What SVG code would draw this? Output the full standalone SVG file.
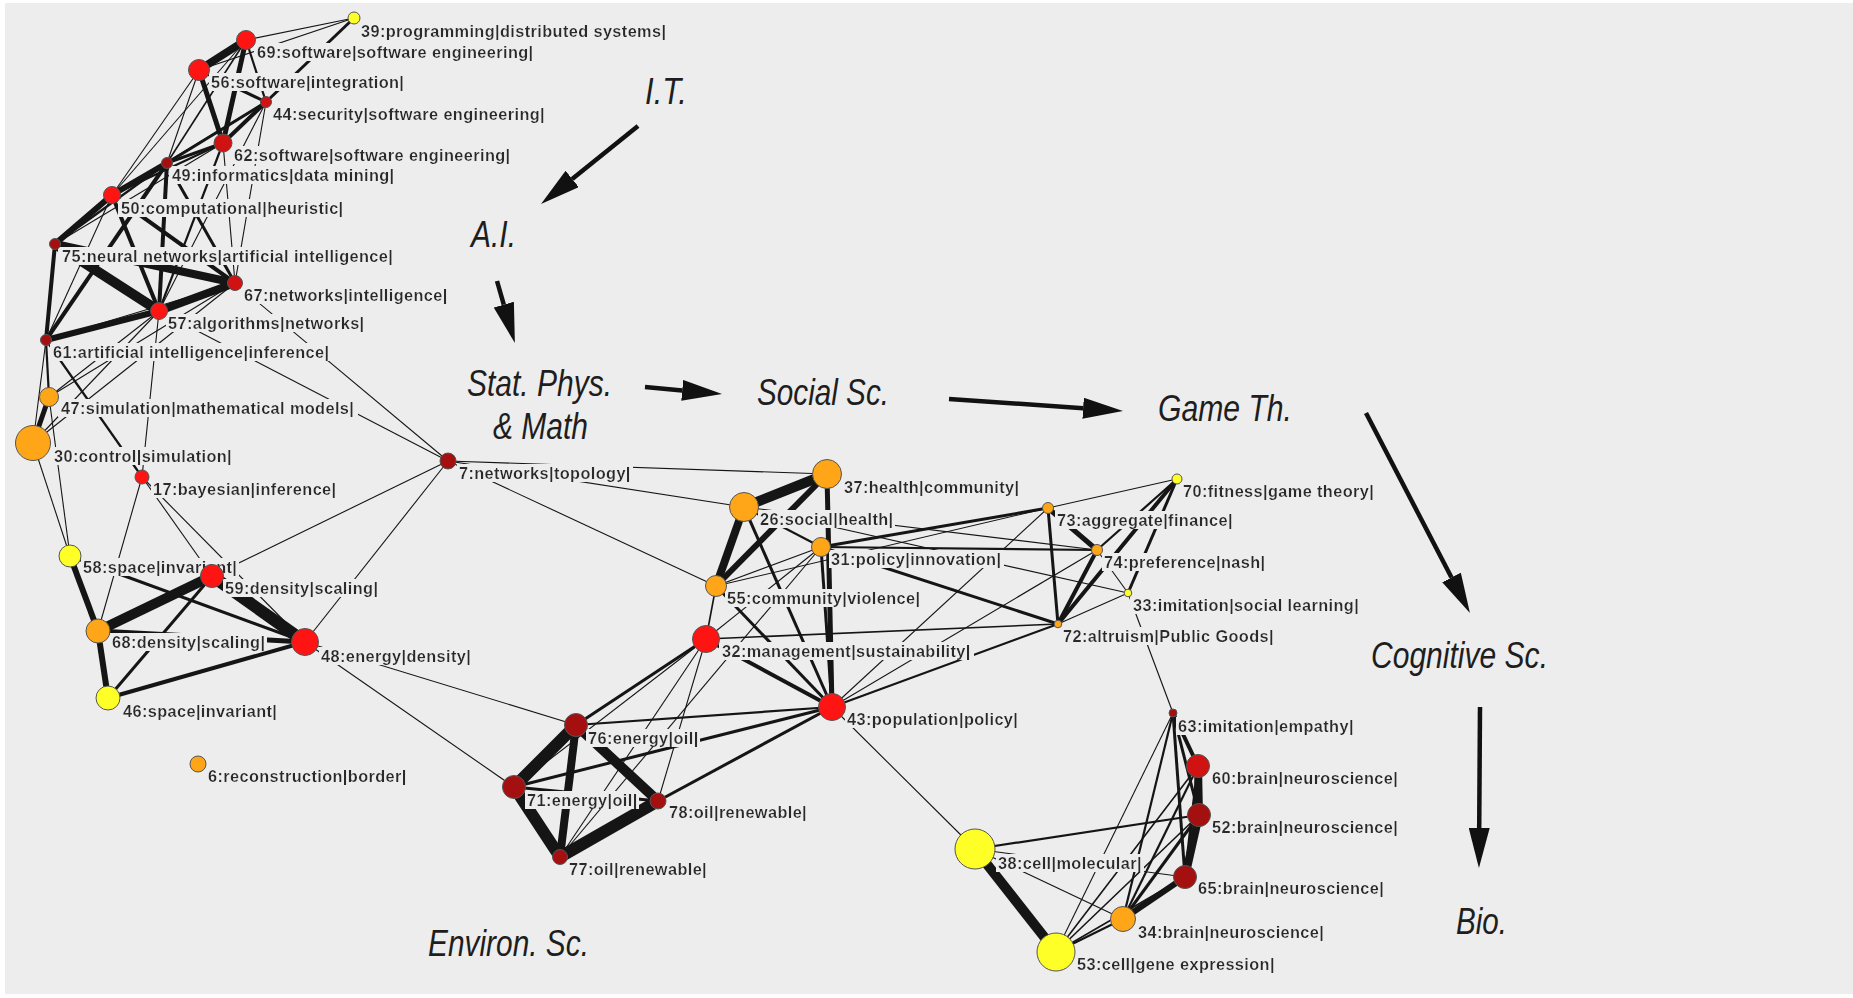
<svg xmlns="http://www.w3.org/2000/svg" width="1853" height="998" viewBox="0 0 1853 998">
<defs>
<style>
.canvas{fill:#ededed}
.n{stroke:#555;stroke-width:1}
.red{fill:#ff1414}
.mred{fill:#d01212}
.dred{fill:#a41010}
.org{fill:#ffa518}
.yel{fill:#ffff28}
.lbl{font-family:"Liberation Sans",Arial,Helvetica,sans-serif;font-size:16.3px;font-weight:bold;fill:#2a2a2a;letter-spacing:0.4px}
.cat{font-family:"Liberation Sans",Arial,Helvetica,sans-serif;font-size:37px;font-style:italic;fill:#1e1e1e}
#edges line{stroke:#151515;stroke-linecap:butt}
.w1{stroke-width:1.1}
.w15{stroke-width:1.6}
.w2{stroke-width:2.2}
.w3{stroke-width:3}
.w4{stroke-width:4}
.w5{stroke-width:5}
.w6{stroke-width:6}
.w8{stroke-width:8}
.w10{stroke-width:10}
.w12{stroke-width:12}
.flow line{stroke:#111;stroke-width:4.5;marker-end:url(#head)}
</style>
<marker id="head" markerUnits="userSpaceOnUse" viewBox="0 0 40 21" markerWidth="40" markerHeight="21" refX="0" refY="10.5" orient="auto">
<path d="M0,0 L40,10.5 L0,21 z" fill="#111"/>
</marker>
<filter id="cut" x="-0.01" y="0" width="1.02" height="1">
<feFlood flood-color="#ededed"/>
<feComposite in="SourceGraphic"/>
</filter>
</defs>

<rect width="1853" height="998" fill="#fff"/>
<rect class="canvas" x="5" y="3" width="1848" height="991"/>

<!-- weighted links between topic clusters -->
<g id="edges">
<!-- thin -->
<line class="w1" x1="354" y1="18" x2="246" y2="40"/>
<line class="w1" x1="354" y1="18" x2="199" y2="70"/>
<line class="w1" x1="246" y1="40" x2="112" y2="195"/>
<line class="w1" x1="199" y1="70" x2="167" y2="163"/>
<line class="w1" x1="199" y1="70" x2="112" y2="195"/>
<line class="w1" x1="266" y1="102" x2="112" y2="195"/>
<line class="w1" x1="266" y1="102" x2="235" y2="283"/>
<line class="w1" x1="266" y1="102" x2="159" y2="311"/>
<line class="w1" x1="223" y1="143" x2="235" y2="283"/>
<line class="w1" x1="223" y1="143" x2="55" y2="244"/>
<line class="w1" x1="112" y1="195" x2="46" y2="340"/>
<line class="w1" x1="46" y1="340" x2="235" y2="283"/>
<line class="w1" x1="49" y1="397" x2="159" y2="311"/>
<line class="w1" x1="49" y1="397" x2="235" y2="283"/>
<line class="w1" x1="33" y1="443" x2="159" y2="311"/>
<line class="w1" x1="33" y1="443" x2="235" y2="283"/>
<line class="w1" x1="46" y1="340" x2="33" y2="443"/>
<line class="w1" x1="159" y1="311" x2="142" y2="477"/>
<line class="w1" x1="159" y1="311" x2="448" y2="461"/>
<line class="w1" x1="235" y1="283" x2="448" y2="461"/>
<line class="w1" x1="212" y1="576" x2="448" y2="461"/>
<line class="w1" x1="305" y1="642" x2="448" y2="461"/>
<line class="w1" x1="448" y1="461" x2="827" y2="474"/>
<line class="w1" x1="448" y1="461" x2="744" y2="507"/>
<line class="w1" x1="448" y1="461" x2="716" y2="586"/>
<line class="w1" x1="142" y1="477" x2="98" y2="631"/>
<line class="w1" x1="142" y1="477" x2="212" y2="576"/>
<line class="w1" x1="142" y1="477" x2="305" y2="642"/>
<line class="w1" x1="33" y1="443" x2="70" y2="556"/>
<line class="w1" x1="49" y1="397" x2="70" y2="556"/>
<line class="w1" x1="744" y1="507" x2="1097" y2="550"/>
<line class="w1" x1="744" y1="507" x2="1128" y2="593"/>
<line class="w1" x1="821" y1="547" x2="716" y2="586"/>
<line class="w1" x1="706" y1="639" x2="821" y2="547"/>
<line class="w15" x1="716" y1="586" x2="706" y2="639"/>
<line class="w1" x1="832" y1="707" x2="1048" y2="508"/>
<line class="w1" x1="832" y1="707" x2="1097" y2="550"/>
<line class="w1" x1="716" y1="586" x2="1048" y2="508"/>
<line class="w1" x1="832" y1="707" x2="975" y2="849"/>
<line class="w1" x1="305" y1="642" x2="576" y2="725"/>
<line class="w1" x1="305" y1="642" x2="514" y2="787"/>
<line class="w1" x1="560" y1="857" x2="706" y2="639"/>
<line class="w1" x1="658" y1="801" x2="706" y2="639"/>
<line class="w1" x1="514" y1="787" x2="706" y2="639"/>
<line class="w1" x1="560" y1="857" x2="821" y2="547"/>
<line class="w1" x1="1177" y1="479" x2="1048" y2="508"/>
<line class="w1" x1="1128" y1="593" x2="1058" y2="624"/>
<line class="w1" x1="1097" y1="550" x2="1128" y2="593"/>
<line class="w1" x1="1128" y1="593" x2="1173" y2="713"/>
<line class="w1" x1="975" y1="849" x2="1123" y2="919"/>
<line class="w1" x1="975" y1="849" x2="1185" y2="877"/>
<line class="w1" x1="1056" y1="952" x2="1173" y2="713"/>
<!-- light -->
<line class="w15" x1="246" y1="40" x2="167" y2="163"/>
<line class="w2" x1="246" y1="40" x2="266" y2="102"/>
<line class="w2" x1="223" y1="143" x2="112" y2="195"/>
<line class="w2" x1="223" y1="143" x2="159" y2="311"/>
<line class="w2" x1="167" y1="163" x2="55" y2="244"/>
<line class="w2" x1="46" y1="340" x2="49" y2="397"/>
<line class="w2" x1="46" y1="340" x2="142" y2="477"/>
<line class="w2" x1="744" y1="507" x2="821" y2="547"/>
<line class="w2" x1="821" y1="547" x2="1097" y2="550"/>
<line class="w15" x1="706" y1="639" x2="1058" y2="624"/>
<line class="w2" x1="832" y1="707" x2="1058" y2="624"/>
<line class="w2" x1="576" y1="725" x2="832" y2="707"/>
<line class="w2" x1="1177" y1="479" x2="1097" y2="550"/>
<line class="w2" x1="975" y1="849" x2="1199" y2="815"/>
<line class="w2" x1="1056" y1="952" x2="1123" y2="919"/>
<line class="w15" x1="1056" y1="952" x2="1198" y2="766"/>
<line class="w15" x1="1056" y1="952" x2="1199" y2="815"/>
<line class="w15" x1="1056" y1="952" x2="1185" y2="877"/>
<line class="w2" x1="1123" y1="919" x2="1198" y2="766"/>
<line class="w2" x1="1123" y1="919" x2="1173" y2="713"/>
<!-- medium -->
<line class="w3" x1="354" y1="18" x2="266" y2="102"/>
<line class="w3" x1="199" y1="70" x2="266" y2="102"/>
<line class="w3" x1="223" y1="143" x2="167" y2="163"/>
<line class="w3" x1="266" y1="102" x2="167" y2="163"/>
<line class="w3" x1="167" y1="163" x2="235" y2="283"/>
<line class="w3" x1="70" y1="556" x2="305" y2="642"/>
<line class="w3" x1="212" y1="576" x2="108" y2="698"/>
<line class="w3" x1="821" y1="547" x2="832" y2="707"/>
<line class="w3" x1="744" y1="507" x2="832" y2="707"/>
<line class="w3" x1="821" y1="547" x2="1048" y2="508"/>
<line class="w3" x1="821" y1="547" x2="1058" y2="624"/>
<line class="w3" x1="716" y1="586" x2="832" y2="707"/>
<line class="w3" x1="514" y1="787" x2="832" y2="707"/>
<line class="w3" x1="514" y1="787" x2="658" y2="801"/>
<line class="w3" x1="576" y1="725" x2="706" y2="639"/>
<line class="w3" x1="658" y1="801" x2="832" y2="707"/>
<line class="w3" x1="1048" y1="508" x2="1058" y2="624"/>
<line class="w3" x1="1177" y1="479" x2="1128" y2="593"/>
<line class="w3" x1="1123" y1="919" x2="1199" y2="815"/>
<line class="w3" x1="1173" y1="713" x2="1199" y2="815"/>
<line class="w3" x1="1173" y1="713" x2="1185" y2="877"/>
<line class="w3" x1="1198" y1="766" x2="1185" y2="877"/>
<!-- strong -->
<line class="w4" x1="266" y1="102" x2="223" y2="143"/>
<line class="w4" x1="167" y1="163" x2="159" y2="311"/>
<line class="w4" x1="167" y1="163" x2="46" y2="340"/>
<line class="w4" x1="112" y1="195" x2="159" y2="311"/>
<line class="w4" x1="112" y1="195" x2="235" y2="283"/>
<line class="w4" x1="55" y1="244" x2="46" y2="340"/>
<line class="w4" x1="108" y1="698" x2="305" y2="642"/>
<line class="w4" x1="706" y1="639" x2="832" y2="707"/>
<line class="w4" x1="1097" y1="550" x2="1058" y2="624"/>
<line class="w4" x1="1177" y1="479" x2="1058" y2="624"/>
<line class="w4" x1="1173" y1="713" x2="1198" y2="766"/>
<line class="w5" x1="246" y1="40" x2="223" y2="143"/>
<line class="w5" x1="199" y1="70" x2="223" y2="143"/>
<line class="w5" x1="49" y1="397" x2="33" y2="443"/>
<line class="w5" x1="98" y1="631" x2="305" y2="642"/>
<line class="w5" x1="827" y1="474" x2="832" y2="707"/>
<line class="w5" x1="1048" y1="508" x2="1097" y2="550"/>
<line class="w6" x1="167" y1="163" x2="112" y2="195"/>
<line class="w6" x1="112" y1="195" x2="55" y2="244"/>
<line class="w6" x1="70" y1="556" x2="98" y2="631"/>
<line class="w6" x1="98" y1="631" x2="108" y2="698"/>
<line class="w6" x1="716" y1="586" x2="827" y2="474"/>
<line class="w6" x1="1123" y1="919" x2="1185" y2="877"/>
<!-- heavy -->
<line class="w8" x1="246" y1="40" x2="199" y2="70"/>
<line class="w8" x1="55" y1="244" x2="235" y2="283"/>
<line class="w6" x1="46" y1="340" x2="159" y2="311"/>
<line class="w8" x1="159" y1="311" x2="235" y2="283"/>
<line class="w8" x1="744" y1="507" x2="716" y2="586"/>
<line class="w8" x1="576" y1="725" x2="560" y2="857"/>
<line class="w8" x1="1198" y1="766" x2="1199" y2="815"/>
<line class="w8" x1="1199" y1="815" x2="1185" y2="877"/>
<line class="w10" x1="55" y1="244" x2="159" y2="311"/>
<line class="w10" x1="212" y1="576" x2="98" y2="631"/>
<line class="w10" x1="744" y1="507" x2="827" y2="474"/>
<line class="w10" x1="975" y1="849" x2="1056" y2="952"/>
<line class="w12" x1="212" y1="576" x2="305" y2="642"/>
<line class="w10" x1="576" y1="725" x2="658" y2="801"/>
<line class="w12" x1="514" y1="787" x2="576" y2="725"/>
<line class="w12" x1="514" y1="787" x2="560" y2="857"/>
<line class="w12" x1="560" y1="857" x2="658" y2="801"/>
</g>

<!-- topic nodes: label (on a cut-out of the canvas) then the disc -->
<g id="n6"><text class="lbl" filter="url(#cut)" x="208" y="782">6:reconstruction|border|</text><circle class="n org" cx="198" cy="764" r="8"/></g>
<g id="n7"><text class="lbl" filter="url(#cut)" x="459" y="479">7:networks|topology|</text><circle class="n dred" cx="448" cy="461" r="8"/></g>
<g id="n17"><text class="lbl" filter="url(#cut)" x="153" y="495">17:bayesian|inference|</text><circle class="n red" cx="142" cy="477" r="7"/></g>
<g id="n26"><text class="lbl" filter="url(#cut)" x="760" y="525">26:social|health|</text><circle class="n org" cx="744" cy="507" r="14.5"/></g>
<g id="n30"><text class="lbl" filter="url(#cut)" x="54" y="462">30:control|simulation|</text><circle class="n org" cx="33" cy="443" r="17.5"/></g>
<g id="n31"><text class="lbl" filter="url(#cut)" x="831" y="565">31:policy|innovation|</text><circle class="n org" cx="821" cy="547" r="9.5"/></g>
<g id="n32"><text class="lbl" filter="url(#cut)" x="722" y="657">32:management|sustainability|</text><circle class="n red" cx="706" cy="639" r="13.5"/></g>
<g id="n33"><text class="lbl" filter="url(#cut)" x="1133" y="611">33:imitation|social learning|</text><circle class="n yel" cx="1128" cy="593" r="3.8"/></g>
<g id="n34"><text class="lbl" filter="url(#cut)" x="1138" y="938">34:brain|neuroscience|</text><circle class="n org" cx="1123" cy="919" r="12.5"/></g>
<g id="n37"><text class="lbl" filter="url(#cut)" x="844" y="493">37:health|community|</text><circle class="n org" cx="827" cy="474" r="14.5"/></g>
<g id="n38"><text class="lbl" filter="url(#cut)" x="998" y="869">38:cell|molecular|</text><circle class="n yel" cx="975" cy="849" r="20"/></g>
<g id="n39"><text class="lbl" filter="url(#cut)" x="361" y="37">39:programming|distributed systems|</text><circle class="n yel" cx="354" cy="18" r="6"/></g>
<g id="n43"><text class="lbl" filter="url(#cut)" x="847" y="725">43:population|policy|</text><circle class="n red" cx="832" cy="707" r="13.5"/></g>
<g id="n44"><text class="lbl" filter="url(#cut)" x="273" y="120">44:security|software engineering|</text><circle class="n mred" cx="266" cy="102" r="5.5"/></g>
<g id="n46"><text class="lbl" filter="url(#cut)" x="123" y="717">46:space|invariant|</text><circle class="n yel" cx="108" cy="698" r="12"/></g>
<g id="n47"><text class="lbl" filter="url(#cut)" x="61" y="414">47:simulation|mathematical models|</text><circle class="n org" cx="49" cy="397" r="9.5"/></g>
<g id="n48"><text class="lbl" filter="url(#cut)" x="321" y="662">48:energy|density|</text><circle class="n red" cx="305" cy="642" r="13.5"/></g>
<g id="n49"><text class="lbl" filter="url(#cut)" x="172" y="181">49:informatics|data mining|</text><circle class="n dred" cx="167" cy="163" r="5.5"/></g>
<g id="n50"><text class="lbl" filter="url(#cut)" x="121" y="214">50:computational|heuristic|</text><circle class="n red" cx="112" cy="195" r="8.5"/></g>
<g id="n52"><text class="lbl" filter="url(#cut)" x="1212" y="833">52:brain|neuroscience|</text><circle class="n dred" cx="1199" cy="815" r="11.5"/></g>
<g id="n53"><text class="lbl" filter="url(#cut)" x="1077" y="970">53:cell|gene expression|</text><circle class="n yel" cx="1056" cy="952" r="19"/></g>
<g id="n55"><text class="lbl" filter="url(#cut)" x="727" y="604">55:community|violence|</text><circle class="n org" cx="716" cy="586" r="10.5"/></g>
<g id="n56"><text class="lbl" filter="url(#cut)" x="211" y="88">56:software|integration|</text><circle class="n red" cx="199" cy="70" r="10.5"/></g>
<g id="n57"><text class="lbl" filter="url(#cut)" x="168" y="329">57:algorithms|networks|</text><circle class="n red" cx="159" cy="311" r="8.5"/></g>
<g id="n58"><text class="lbl" filter="url(#cut)" x="83" y="573">58:space|invariant|</text><circle class="n yel" cx="70" cy="556" r="11"/></g>
<g id="n59"><text class="lbl" filter="url(#cut)" x="225" y="594">59:density|scaling|</text><circle class="n red" cx="212" cy="576" r="11.5"/></g>
<g id="n60"><text class="lbl" filter="url(#cut)" x="1212" y="784">60:brain|neuroscience|</text><circle class="n mred" cx="1198" cy="766" r="11.5"/></g>
<g id="n61"><text class="lbl" filter="url(#cut)" x="53" y="358">61:artificial intelligence|inference|</text><circle class="n dred" cx="46" cy="340" r="5.5"/></g>
<g id="n62"><text class="lbl" filter="url(#cut)" x="234" y="161">62:software|software engineering|</text><circle class="n mred" cx="223" cy="143" r="9"/></g>
<g id="n63"><text class="lbl" filter="url(#cut)" x="1178" y="732">63:imitation|empathy|</text><circle class="n dred" cx="1173" cy="713" r="4"/></g>
<g id="n65"><text class="lbl" filter="url(#cut)" x="1198" y="894">65:brain|neuroscience|</text><circle class="n dred" cx="1185" cy="877" r="11.5"/></g>
<g id="n67"><text class="lbl" filter="url(#cut)" x="244" y="301">67:networks|intelligence|</text><circle class="n mred" cx="235" cy="283" r="7.5"/></g>
<g id="n68"><text class="lbl" filter="url(#cut)" x="112" y="648">68:density|scaling|</text><circle class="n org" cx="98" cy="631" r="12"/></g>
<g id="n69"><text class="lbl" filter="url(#cut)" x="257" y="58">69:software|software engineering|</text><circle class="n red" cx="246" cy="40" r="9.5"/></g>
<g id="n70"><text class="lbl" filter="url(#cut)" x="1183" y="497">70:fitness|game theory|</text><circle class="n yel" cx="1177" cy="479" r="5"/></g>
<g id="n71"><text class="lbl" filter="url(#cut)" x="527" y="806">71:energy|oil|</text><circle class="n dred" cx="514" cy="787" r="11.5"/></g>
<g id="n72"><text class="lbl" filter="url(#cut)" x="1063" y="642">72:altruism|Public Goods|</text><circle class="n org" cx="1058" cy="624" r="3.8"/></g>
<g id="n73"><text class="lbl" filter="url(#cut)" x="1057" y="526">73:aggregate|finance|</text><circle class="n org" cx="1048" cy="508" r="5.5"/></g>
<g id="n74"><text class="lbl" filter="url(#cut)" x="1104" y="568">74:preference|nash|</text><circle class="n org" cx="1097" cy="550" r="5.5"/></g>
<g id="n75"><text class="lbl" filter="url(#cut)" x="62" y="262">75:neural networks|artificial intelligence|</text><circle class="n dred" cx="55" cy="244" r="5.5"/></g>
<g id="n76"><text class="lbl" filter="url(#cut)" x="588" y="744">76:energy|oil|</text><circle class="n dred" cx="576" cy="725" r="11.5"/></g>
<g id="n77"><text class="lbl" filter="url(#cut)" x="569" y="875">77:oil|renewable|</text><circle class="n dred" cx="560" cy="857" r="7.5"/></g>
<g id="n78"><text class="lbl" filter="url(#cut)" x="669" y="818">78:oil|renewable|</text><circle class="n dred" cx="658" cy="801" r="8"/></g>

<!-- discipline sequence -->
<g id="disciplines">
<text class="cat" x="645" y="104" textLength="42" lengthAdjust="spacingAndGlyphs">I.T.</text>
<text class="cat" x="471" y="247" textLength="45" lengthAdjust="spacingAndGlyphs">A.I.</text>
<text class="cat" x="467" y="396" textLength="145" lengthAdjust="spacingAndGlyphs">Stat. Phys.</text>
<text class="cat" x="493" y="439" textLength="95" lengthAdjust="spacingAndGlyphs">&amp; Math</text>
<text class="cat" x="757" y="405" textLength="132" lengthAdjust="spacingAndGlyphs">Social Sc.</text>
<text class="cat" x="1158" y="421" textLength="134" lengthAdjust="spacingAndGlyphs">Game Th.</text>
<text class="cat" x="1371" y="668" textLength="177" lengthAdjust="spacingAndGlyphs">Cognitive Sc.</text>
<text class="cat" x="1456" y="934" textLength="51" lengthAdjust="spacingAndGlyphs">Bio.</text>
<text class="cat" x="428" y="956" textLength="161" lengthAdjust="spacingAndGlyphs">Environ. Sc.</text>
</g>
<g id="flow" class="flow">
<line x1="638" y1="126" x2="572.2" y2="178.9"/>
<line x1="497" y1="281" x2="503.8" y2="304.6"/>
<line x1="645" y1="387" x2="682.2" y2="390.4"/>
<line x1="949" y1="399" x2="1083.1" y2="408.2"/>
<line x1="1366" y1="413" x2="1451.5" y2="577.5"/>
<line x1="1480" y1="707" x2="1479.2" y2="828"/>
</g>
</svg>
